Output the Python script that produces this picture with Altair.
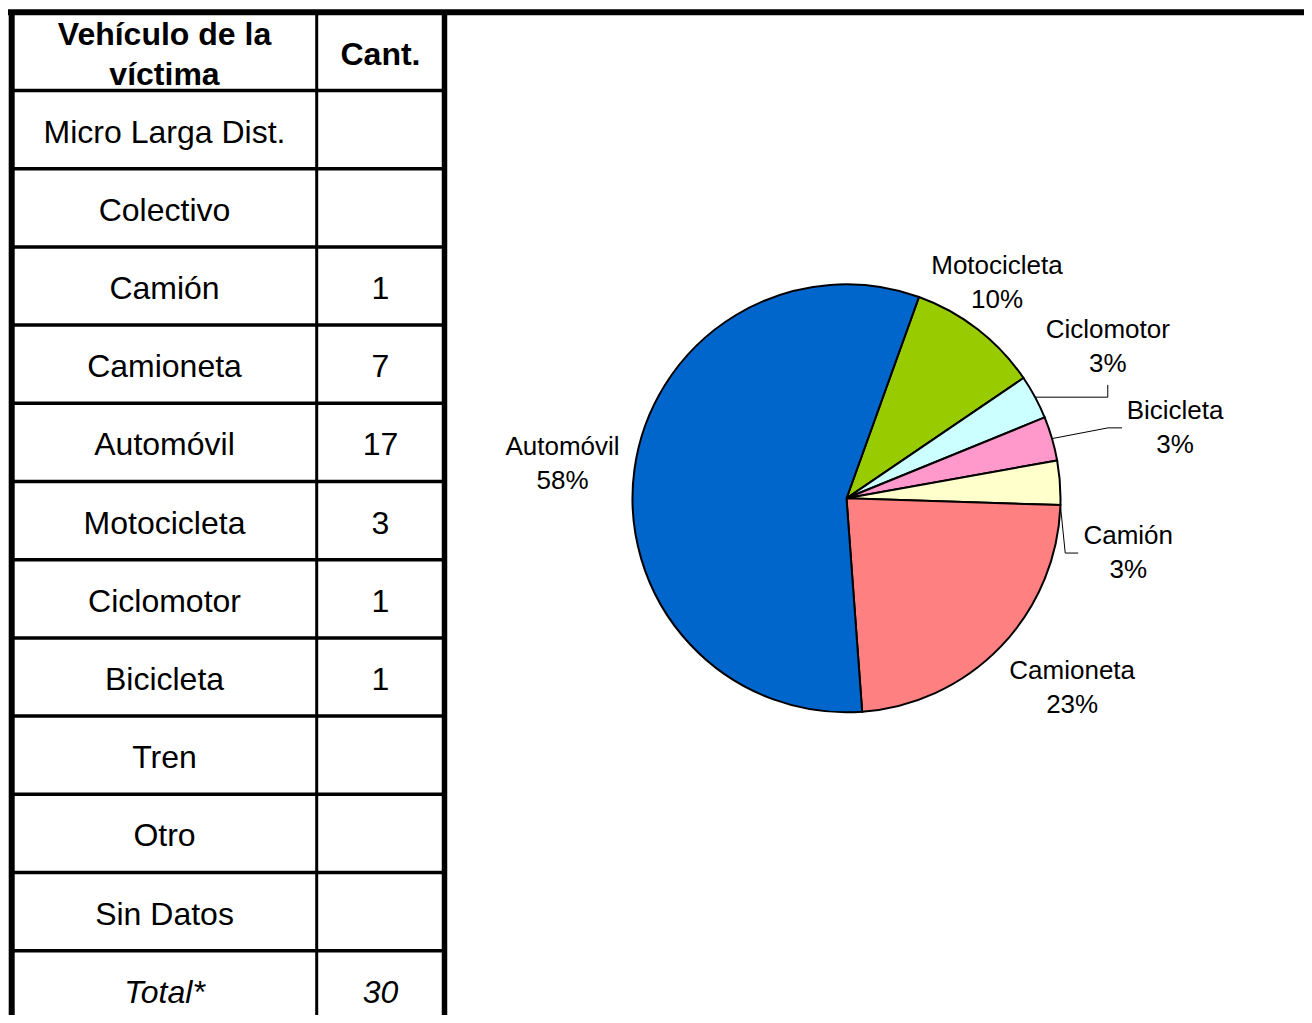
import math
import altair as alt
import pandas as pd

# ---------------- data ----------------
vehiculos = ["Micro Larga Dist.", "Colectivo", "Camión", "Camioneta", "Automóvil",
             "Motocicleta", "Ciclomotor", "Bicicleta", "Tren", "Otro", "Sin Datos"]
cantidades = [None, None, 1, 7, 17, 3, 1, 1, None, None, None]
encabezado = ["Vehículo de la", "víctima"]
encabezado_cant = "Cant."
total_label = "Total*"
total_valor = 30

pie_orden = ["Motocicleta", "Ciclomotor", "Bicicleta", "Camión", "Camioneta", "Automóvil"]
pie_pct = ["10%", "3%", "3%", "3%", "23%", "58%"]
pie_colores = ["#99CC00", "#CCFFFF", "#FF99CC", "#FFFFCC", "#FF8080", "#0066CC"]

# ---------------- layout ----------------
W, H = 1296, 1007
FONT = "Liberation Sans"
ROW_Y0, ROW_H = 4.3, 78.2
N_ROWS = 13
yscale = alt.Scale(domain=[0, N_ROWS], range=[ROW_Y0, ROW_Y0 + N_ROWS * ROW_H])
X_LEFT, X_DIV, X_RIGHT = 3.7, 308.7, 436.5
COL0_X, COL1_X = 156.5, 372.5
TAB_FS = 32
TAB_DY = 3

CX, CY, R = 838.5, 490.3, 214
START_DEG = 19.8
START = math.radians(START_DEG)
LAB_FS = 26
LAB_DY = 17
# label placement (angle nudge in degrees, distance from centre in px)
LABEL_LAYOUT = {
    "Motocicleta": (-2.9, 263),
    "Ciclomotor": (-1.9, 302),
    "Bicicleta": (4.1, 336),
    "Camión": (15.2, 287),
    "Camioneta": (-3.7, 295),
    "Automóvil": (-1.0, 286),
}

# ---------------- table ----------------
tab = pd.DataFrame({
    "veh": vehiculos,
    "cant": ["" if c is None else str(c) for c in cantidades],
    "fila": list(range(1, len(vehiculos) + 1)),
})
tot = pd.DataFrame({"veh": [total_label], "cant": [str(total_valor)], "fila": [len(vehiculos) + 1]})
hdr = pd.DataFrame({"l1": [encabezado[0]], "l2": [encabezado[1]], "c": [encabezado_cant], "fila": [0]})
bounds = pd.DataFrame({"b": list(range(1, N_ROWS))})

Y = lambda f: alt.Y(f, scale=yscale, axis=None)

row_lines = alt.Chart(bounds).mark_rule(color="black", strokeWidth=3.5).encode(
    y=Y("b:Q"), x=alt.value(X_LEFT), x2=alt.value(X_RIGHT))
top_line = alt.Chart(pd.DataFrame({"b": [0]})).mark_rule(color="black", strokeWidth=6).encode(
    y=Y("b:Q"), x=alt.value(0), x2=alt.value(W))

def vline(xp, w):
    return alt.Chart(pd.DataFrame({"b": [0]})).mark_rule(color="black", strokeWidth=w).encode(
        x=alt.value(xp), y=Y("b:Q"), y2=alt.value(H))

txt_kw = dict(font=FONT, fontSize=TAB_FS, baseline="middle", align="center", color="black")
col0 = alt.Chart(tab).mark_text(dy=TAB_DY, **txt_kw).transform_calculate(yc="datum.fila + 0.5").encode(
    x=alt.value(COL0_X), y=Y("yc:Q"), text="veh:N")
col1 = alt.Chart(tab).mark_text(dy=TAB_DY, **txt_kw).transform_calculate(yc="datum.fila + 0.5").encode(
    x=alt.value(COL1_X), y=Y("yc:Q"), text="cant:N")
tot0 = alt.Chart(tot).mark_text(fontStyle="italic", dy=TAB_DY, **txt_kw).transform_calculate(yc="datum.fila + 0.5").encode(
    x=alt.value(COL0_X), y=Y("yc:Q"), text="veh:N")
tot1 = alt.Chart(tot).mark_text(fontStyle="italic", dy=TAB_DY, **txt_kw).transform_calculate(yc="datum.fila + 0.5").encode(
    x=alt.value(COL1_X), y=Y("yc:Q"), text="cant:N")
h1 = alt.Chart(hdr).mark_text(fontWeight="bold", dy=-20 + TAB_DY + 1, **txt_kw).transform_calculate(yc="datum.fila + 0.5").encode(
    x=alt.value(COL0_X), y=Y("yc:Q"), text="l1:N")
h2 = alt.Chart(hdr).mark_text(fontWeight="bold", dy=20 + TAB_DY + 1, **txt_kw).transform_calculate(yc="datum.fila + 0.5").encode(
    x=alt.value(COL0_X), y=Y("yc:Q"), text="l2:N")
h3 = alt.Chart(hdr).mark_text(fontWeight="bold", dy=TAB_DY + 1, **txt_kw).transform_calculate(yc="datum.fila + 0.5").encode(
    x=alt.value(COL1_X), y=Y("yc:Q"), text="c:N")

# ---------------- pie ----------------
pie_vals = [cantidades[vehiculos.index(v)] for v in pie_orden]
pie_df = pd.DataFrame({"veh": pie_orden, "cant": pie_vals, "pct": pie_pct, "orden": list(range(len(pie_orden)))})
total_pie = sum(pie_vals)

arc = alt.Chart(pie_df).mark_arc(outerRadius=R, stroke="black", strokeWidth=2).encode(
    theta=alt.Theta("cant:Q", stack=True, scale=alt.Scale(range=[START, START + 2 * math.pi])),
    color=alt.Color("veh:N", scale=alt.Scale(domain=pie_orden, range=pie_colores), legend=None),
    order=alt.Order("orden:Q"),
    x=alt.value(CX), y=alt.value(CY))

# geometry of slices
def polar(a_deg, r):
    a = math.radians(a_deg)
    return CX + r * math.sin(a), CY - r * math.cos(a)

mids, ends = {}, {}
acc = 0
for v, c in zip(pie_orden, pie_vals):
    a0 = START_DEG + acc / total_pie * 360
    acc += c
    a1 = START_DEG + acc / total_pie * 360
    mids[v] = (a0 + a1) / 2
    ends[v] = a1

lab_rows = []
for v, p in zip(pie_orden, pie_pct):
    da, rr = LABEL_LAYOUT[v]
    lx, ly = polar(mids[v] + da, rr)
    lab_rows.append({"veh": v, "pct": p, "lx": lx, "ly": ly})
lab_df = pd.DataFrame(lab_rows)
lab_pos = {r["veh"]: (r["lx"], r["ly"]) for r in lab_rows}

lab_kw = dict(font=FONT, fontSize=LAB_FS, baseline="middle", align="center", color="black")
lab1 = alt.Chart(lab_df).mark_text(dy=-LAB_DY, **lab_kw).encode(
    x=alt.X("lx:Q", scale=None, axis=None), y=alt.Y("ly:Q", scale=None, axis=None), text="veh:N")
lab2 = alt.Chart(lab_df).mark_text(dy=LAB_DY, **lab_kw).encode(
    x=alt.X("lx:Q", scale=None, axis=None), y=alt.Y("ly:Q", scale=None, axis=None), text="pct:N")

# leader lines
lead = []
p0 = polar(mids["Ciclomotor"], R); lx, ly = lab_pos["Ciclomotor"]
for i, (x, y) in enumerate([p0, (lx, p0[1]), (lx, ly + 38)]):
    lead.append({"g": "Ciclomotor", "i": i, "x": x, "y": y})
p0 = polar(mids["Bicicleta"], R); lx, ly = lab_pos["Bicicleta"]
for i, (x, y) in enumerate([p0, (lx - 67, ly), (lx - 53, ly)]):
    lead.append({"g": "Bicicleta", "i": i, "x": x, "y": y})
p0 = polar(ends["Camión"], R); lx, ly = lab_pos["Camión"]
for i, (x, y) in enumerate([p0, (lx - 63, ly), (lx - 50, ly)]):
    lead.append({"g": "Camión", "i": i, "x": x, "y": y})
lead_df = pd.DataFrame(lead)
leaders = alt.Chart(lead_df).mark_line(color="black", strokeWidth=1).encode(
    x=alt.X("x:Q", scale=None, axis=None), y=alt.Y("y:Q", scale=None, axis=None),
    detail="g:N", order="i:Q")

chart = alt.layer(
    arc, leaders, lab1, lab2,
    row_lines, top_line,
    vline(X_LEFT, 6), vline(X_DIV, 3), vline(X_RIGHT, 5.5),
    col0, col1, tot0, tot1, h1, h2, h3,
).resolve_scale(x="independent", y="independent", theta="independent", color="independent").properties(
    width=W, height=H, padding=0, autosize=alt.AutoSizeParams(type="none"), background="white"
).configure_view(stroke=None)

chart.save("out.html", embed_options={"renderer": "svg", "actions": False})
